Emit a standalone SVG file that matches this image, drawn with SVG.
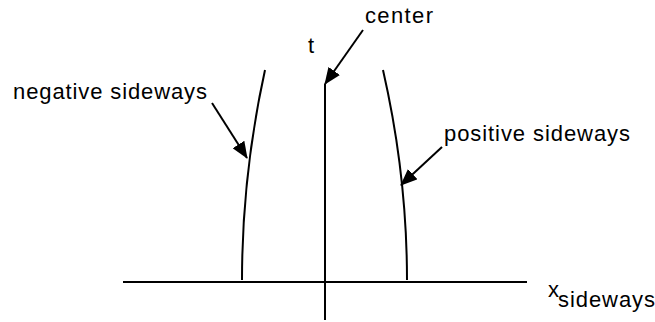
<svg xmlns="http://www.w3.org/2000/svg" width="655" height="322" viewBox="0 0 655 322">
<style>
text{font-family:"Liberation Sans",Arial,Helvetica,sans-serif;font-size:22px;fill:#000}
.ln{stroke:#000;stroke-width:2;fill:none}
</style>
<defs>
<marker id="ah" markerUnits="userSpaceOnUse" markerWidth="18" markerHeight="14" refX="16" refY="7" orient="auto">
<path d="M0,0 L17,7 L0,14 z" fill="#000"/>
</marker>
</defs>
<rect width="655" height="322" fill="#fff"/>
<g id="axes">
<line class="ln" x1="123" y1="282" x2="527" y2="282"/>
<line class="ln" x1="325" y1="84" x2="325" y2="320"/>
</g>
<g id="curves">
<path class="ln" d="M242,280 Q242,175 265,70"/>
<path class="ln" d="M407,280 Q407,175 383,70"/>
</g>
<g id="connectors">
<line class="ln" x1="212" y1="103" x2="247" y2="158" marker-end="url(#ah)"/>
<line class="ln" x1="363" y1="30" x2="325" y2="84" marker-end="url(#ah)"/>
<line class="ln" x1="442" y1="147" x2="401" y2="185" marker-end="url(#ah)"/>
</g>
<g id="labels">
<text x="13" y="99" textLength="194" lengthAdjust="spacing">negative sideways</text>
<text x="365" y="23" textLength="68" lengthAdjust="spacing">center</text>
<text x="308" y="53">t</text>
<text x="444" y="141" textLength="186" lengthAdjust="spacing">positive sideways</text>
<text x="548" y="297">x</text>
<text x="558" y="307" textLength="97" lengthAdjust="spacing">sideways</text>
</g>
</svg>
